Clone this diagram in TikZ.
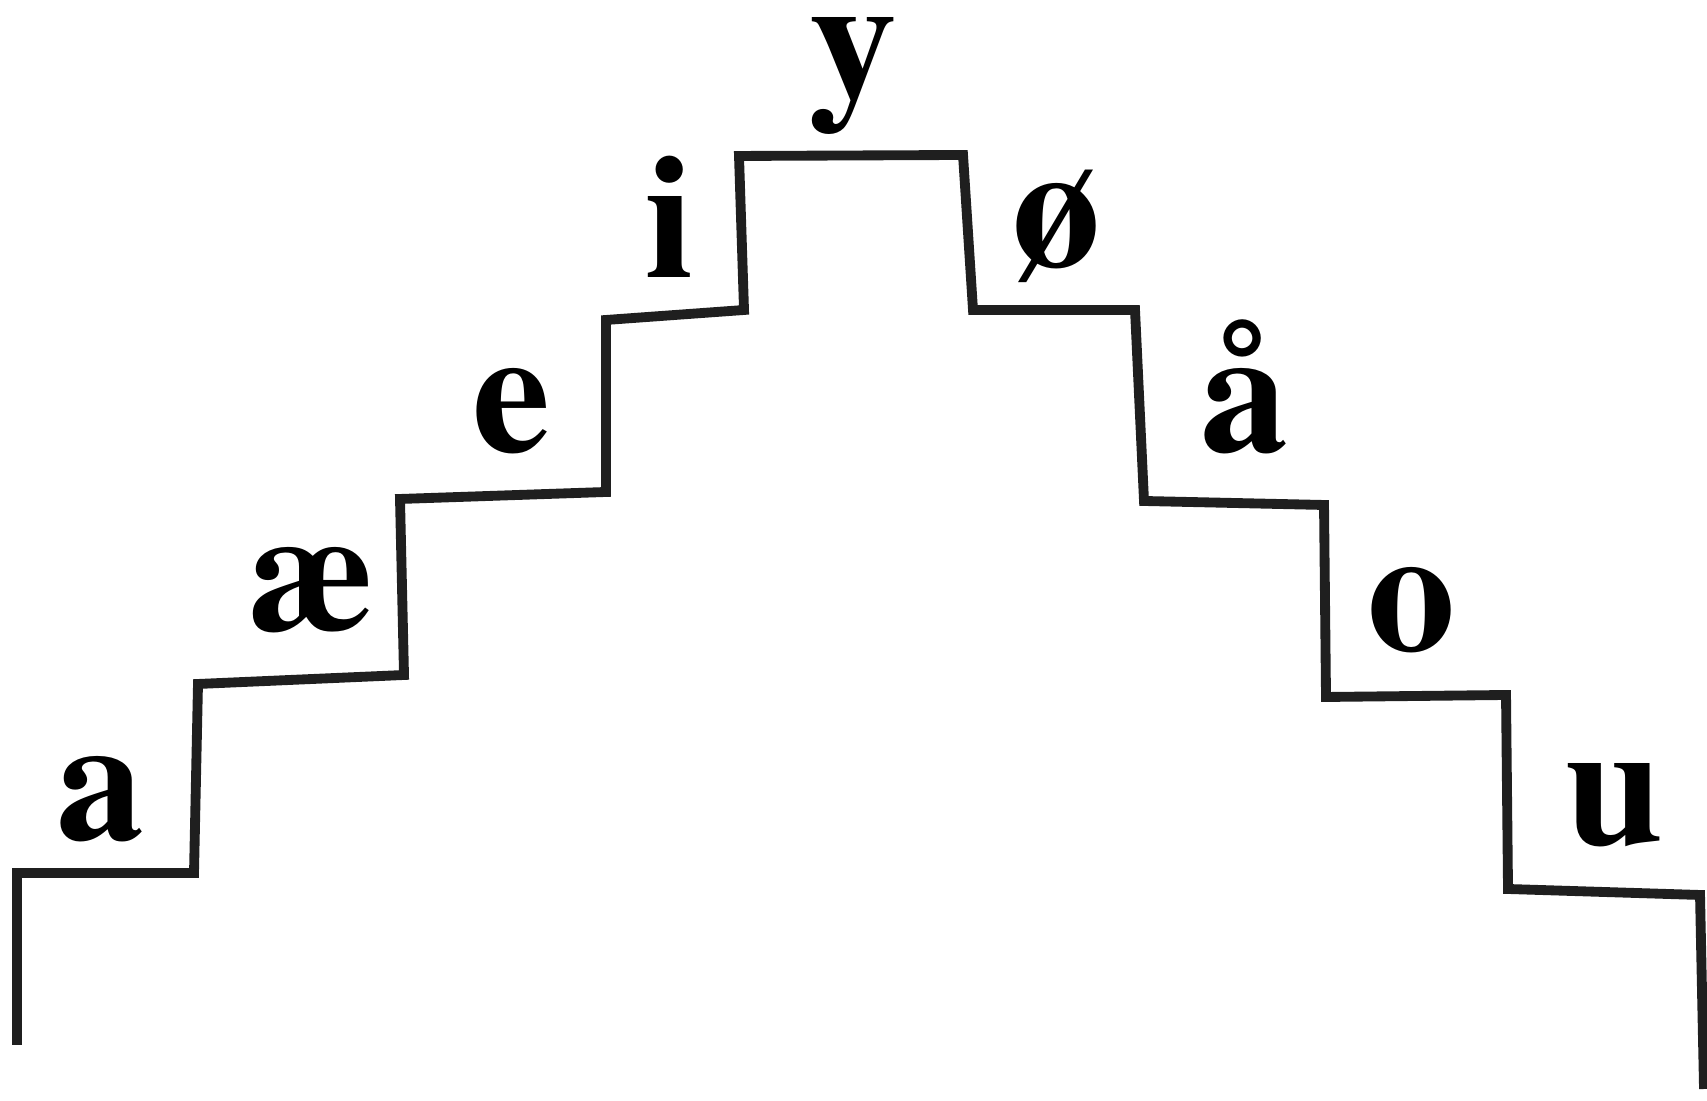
\documentclass[tikz,border=0pt]{standalone}
\usepackage[T1]{fontenc}
\usepackage{tikz}
\usetikzlibrary{calc}
\tikzset{
    vowel/.style={anchor=base, inner sep=0pt,
        font=\fontencoding{T1}\fontfamily{ptm}\fontseries{b}\fontsize{50}{60}\selectfont},
    stairline/.style={line width=2.8pt, line join=miter, black!88}
}

\begin{document}
\begin{tikzpicture}
    \useasboundingbox (0,0) rectangle (17.07,11.01);

    % Stair corners, left side
    \coordinate (L0) at (0.17,0.56);
    \coordinate (L1) at (0.17,2.28);
    \coordinate (L2) at (1.94,2.28);
    \coordinate (L3) at (1.98,4.17);
    \coordinate (L4) at (4.04,4.26);
    \coordinate (L5) at (4.00,6.02);
    \coordinate (L6) at (6.06,6.09);
    \coordinate (L7) at (6.06,7.81);
    \coordinate (L8) at (7.44,7.91);
    \coordinate (L9) at (7.39,9.45);

    % Stair corners, right side
    \coordinate (R9) at (9.63,9.46);
    \coordinate (R8) at (9.73,7.91);
    \coordinate (R7) at (11.35,7.91);
    \coordinate (R6) at (11.44,6.00);
    \coordinate (R5) at (13.24,5.96);
    \coordinate (R4) at (13.26,4.04);
    \coordinate (R3) at (15.06,4.06);
    \coordinate (R2) at (15.08,2.12);
    \coordinate (R1) at (17.00,2.06);
    \coordinate (R0) at (17.04,0.12);

    % Staircase
    \draw[stairline] (L0) -- (L1) -- (L2) -- (L3) -- (L4) -- (L5) -- (L6) -- (L7) -- (L8) -- (L9)
        -- (R9) -- (R8) -- (R7) -- (R6) -- (R5) -- (R4) -- (R3) -- (R2) -- (R1) -- (R0);

    % Vowels
    \node[vowel] (va) at (1.00,2.61) {a};
    \node[vowel] (vae) at (3.11,4.70) {\ae};
    \node[vowel] (ve) at (5.12,6.49) {e};
    \node[vowel] (vi) at (6.70,8.23) {i};
    \node[vowel] (vy) at (8.53,10.02) {y};
    \node[vowel] (voe) at (10.56,8.34) {\o};
    \node[vowel] (vaa) at (12.44,6.49) {\aa};
    \node[vowel] (vo) at (14.11,4.50) {o};
    \node[vowel] (vu) at (16.14,2.56) {u};
\end{tikzpicture}
\end{document}
